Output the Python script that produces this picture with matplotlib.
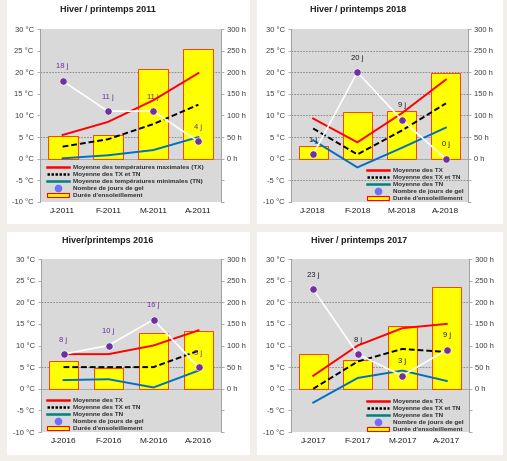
import numpy as np
import matplotlib
matplotlib.use("Agg")
import matplotlib.pyplot as plt
from matplotlib.lines import Line2D
from matplotlib.patches import Rectangle, Patch

# Données
mois_2011 = ["J-2011", "F-2011", "M-2011", "A-2011"]
soleil_2011 = [53, 55, 207, 254]
tx_2011 = [5.5, 8.5, 13.5, 19.8]
tm_2011 = [2.8, 4.5, 8.0, 12.5]
tn_2011 = [0.1, 0.8, 2.0, 5.0]
gel_2011 = [18, 11, 11, 4]

mois_2018 = ["J-2018", "F-2018", "M-2018", "A-2018"]
soleil_2018 = [30, 107, 111, 198]
tx_2018 = [9.3, 3.8, 10.5, 18.3]
tm_2018 = [7.0, 1.0, 6.5, 12.8]
tn_2018 = [4.3, -2.0, 2.5, 7.2]
gel_2018 = [1, 20, 9, 0]

mois_2016 = ["J-2016", "F-2016", "M-2016", "A-2016"]
soleil_2016 = [65, 48, 128, 134]
tx_2016 = [8.0, 8.0, 10.0, 13.5]
tm_2016 = [5.0, 5.0, 5.0, 8.8]
tn_2016 = [2.0, 2.2, 0.3, 4.2]
gel_2016 = [8, 10, 16, 5]

mois_2017 = ["J-2017", "F-2017", "M-2017", "A-2017"]
soleil_2017 = [80, 67, 145, 236]
tx_2017 = [3.0, 10.0, 14.0, 15.0]
tm_2017 = [0.0, 6.3, 9.2, 8.5]
tn_2017 = [-3.2, 2.5, 4.2, 1.8]
gel_2017 = [23, 8, 3, 9]

labels_longs = ["Moyenne des températures maximales (TX)", "Moyenne des TX et TN",
                "Moyenne des températures minimales (TN)", "Nombre de jours de gel",
                "Durée d'ensoleillement"]
labels_courts = ["Moyenne des TX", "Moyenne des TX et TN", "Moyenne des TN",
                 "Nombre de jours de gel", "Durée d'ensoleillement"]

W, H = 507, 461
fond = "#f2eee9"
gris = "#d9d9d9"
violet = "#7030a0"
texte = "#404040"

plt.rcParams['font.family'] = ['Liberation Sans', 'DejaVu Sans']

fig = plt.figure(figsize=(W / 100, H / 100), dpi=100, facecolor=fond)


def box(x0, y0, x1, y1):
    # pixels (origine en haut) -> coordonnées figure
    return [x0 / W, 1 - y1 / H, (x1 - x0) / W, (y1 - y0) / H]


# cadres blancs des quatre graphiques
for (x0, y0, x1, y1) in [(7, 0, 250, 224), (257, 0, 503, 224), (7, 232, 250, 455), (257, 232, 503, 455)]:
    fig.patches.append(Rectangle((x0 / W, 1 - y1 / H), (x1 - x0) / W, (y1 - y0) / H,
                                 transform=fig.transFigure, facecolor="white", edgecolor="none", zorder=0))

panneaux = [
    dict(titre="Hiver / printemps 2011", mois=mois_2011, soleil=soleil_2011, tx=tx_2011, tm=tm_2011,
         tn=tn_2011, gel=gel_2011, pos=(40, 29, 221, 202), tpos=(108, 10), leg=labels_longs,
         lpos=(47, 165), grille=[5, 20], cgel=violet),
    dict(titre="Hiver / printemps 2018", mois=mois_2018, soleil=soleil_2018, tx=tx_2018, tm=tm_2018,
         tn=tn_2018, gel=gel_2018, pos=(291, 29, 468, 202), tpos=(358, 10), leg=labels_courts,
         lpos=(367, 168), grille=[-5, 5, 10, 15, 20, 25], cgel="#202020"),
    dict(titre="Hiver/printemps 2016", mois=mois_2016, soleil=soleil_2016, tx=tx_2016, tm=tm_2016,
         tn=tn_2016, gel=gel_2016, pos=(41, 259, 221, 432), tpos=(108, 240), leg=labels_courts,
         lpos=(47, 398), grille=[5, 20], cgel=violet),
    dict(titre="Hiver / printemps 2017", mois=mois_2017, soleil=soleil_2017, tx=tx_2017, tm=tm_2017,
         tn=tn_2017, gel=gel_2017, pos=(291, 259, 469, 432), tpos=(359, 240), leg=labels_courts,
         lpos=(367, 399), grille=[5, 20], cgel="#202020"),
]

for p in panneaux:
    ax = fig.add_axes(box(*p["pos"]))
    ax2 = ax.twinx()
    ax.set_zorder(2)
    ax2.set_zorder(1)
    ax.patch.set_visible(False)
    ax2.patch.set_visible(True)
    ax2.patch.set_facecolor(gris)

    x = np.arange(len(p["mois"]))

    # heures d'ensoleillement (axe de droite)
    for g in p["grille"]:
        ax2.axhline(g * 10, color="#808080", lw=0.6, ls=(0, (2, 1.5)), zorder=0)
    ax2.bar(x, p["soleil"], width=0.66, color="#ffff00", edgecolor="#ff4000", lw=0.7, zorder=2)
    ax2.axhline(0, color="#a0a0a0", lw=0.6, zorder=1)
    ax2.set_ylim(-100, 300)
    ax2.set_yticks(range(-100, 301, 50))
    ax2.set_yticklabels(["", ""] + [f"{v} h" for v in range(0, 301, 50)])

    # températures (axe de gauche)
    ax.plot(x, p["tx"], color="#ff0000", lw=1.4, zorder=3)
    ax.plot(x, p["tm"], color="black", lw=1.4, ls=(0, (3, 1.5)), zorder=3)
    ax.plot(x, p["tn"], color="#0070c0", lw=1.4, zorder=3)
    ax.plot(x, p["gel"], color="white", lw=1.2, marker="o", ms=5.2, mfc=violet, mec="white",
            mew=0.4, zorder=4)
    for xi, g in zip(x, p["gel"]):
        ax.annotate(f"{g} j", (xi, g), xytext=(0, 7.5), textcoords="offset points",
                    ha="center", va="bottom", fontsize=5.5, color=p["cgel"], zorder=5)
    ax.set_ylim(-10, 30)
    ax.set_xlim(-0.5, len(x) - 0.5)
    ax.set_yticks(range(-10, 31, 5))
    ax.set_yticklabels([f"{v} °C" for v in range(-10, 31, 5)])
    ax.set_xticks(x)
    ax.set_xticklabels(p["mois"])

    for a in (ax, ax2):
        for s in ("top", "bottom"):
            a.spines[s].set_visible(False)
        a.spines["left"].set_color("#a0a0a0")
        a.spines["right"].set_color("#a0a0a0")
        a.spines["left"].set_linewidth(0.6)
        a.spines["right"].set_linewidth(0.6)
        a.tick_params(axis="y", labelsize=5.5, labelcolor=texte, length=2.5, width=0.6,
                      color="#a0a0a0", pad=2)
    ax.tick_params(axis="x", labelsize=6, labelcolor="#202020", length=0, pad=4)

    fig.text(p["tpos"][0] / W, 1 - p["tpos"][1] / H, p["titre"], ha="center", va="center",
             fontsize=6.5, fontweight="bold", color="#202020")

    poignees = [Line2D([], [], color="#ff0000", lw=1.8),
                Line2D([], [], color="black", lw=1.8, ls=(0, (1, 0.6))),
                Line2D([], [], color="#008080", lw=1.8),
                Line2D([], [], ls="none", marker="o", ms=4.5, mfc="#6f6fff", mec="#6f6fff"),
                Patch(facecolor="#ffff00", edgecolor="#ff0000", lw=0.8)]
    lx, ly = p["lpos"]
    leg = ax.legend(poignees, p["leg"], loc="upper left", bbox_to_anchor=(lx / W, 1 - ly / H),
                    bbox_transform=fig.transFigure, frameon=False, borderpad=0, borderaxespad=0,
                    handlelength=3.4, handletextpad=0.6, labelspacing=0.22,
                    prop={"size": 4.6, "weight": "bold"})
    for t in leg.get_texts():
        t.set_color("#303030")

fig.savefig("out.png", dpi=100, facecolor=fond)
